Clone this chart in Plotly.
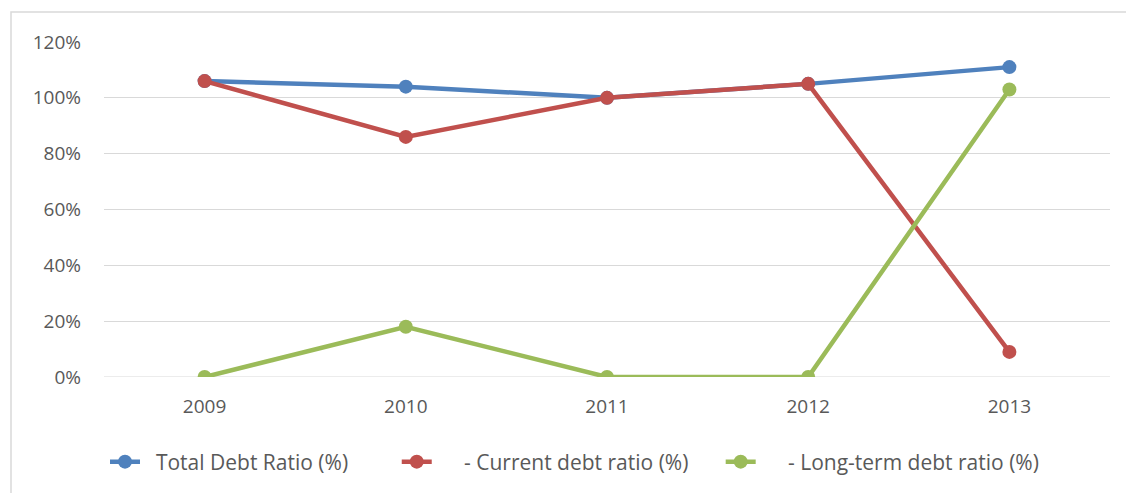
import plotly.graph_objects as go

years = ["2009", "2010", "2011", "2012", "2013"]
total_debt = [1.06, 1.04, 1.00, 1.05, 1.11]
current_debt = [1.06, 0.86, 1.00, 1.05, 0.09]
longterm_debt = [0.00, 0.18, 0.00, 0.00, 1.03]

NB = "\u00a0"
series_names = [
    NB * 2 + "Total Debt Ratio (%)" + NB * 8,
    NB * 5 + "- Current debt ratio (%)" + NB * 5,
    NB * 5 + "- Long-term debt ratio (%)",
]
colors = ["#4F81BD", "#C0504D", "#9BBB59"]

fig = go.Figure()
for name, vals, col in zip(series_names, [total_debt, current_debt, longterm_debt], colors):
    fig.add_trace(go.Scatter(
        x=years, y=vals, name=name, mode="lines+markers",
        line=dict(color=col, width=4.5),
        marker=dict(color=col, size=14),
    ))

font = "Open Sans, Liberation Sans, sans-serif"
fig.update_layout(
    width=1126, height=493,
    margin=dict(l=104, r=16, t=42, b=115),
    paper_bgcolor="white", plot_bgcolor="white",
    font=dict(family=font, size=19, color="#595959"),
    showlegend=True,
    legend=dict(orientation="h", x=0.001, xanchor="left", y=-0.25, yanchor="middle",
                font=dict(size=21, color="#595959"), tracegroupgap=0),
    xaxis=dict(type="category", range=[-0.5, 4.5], showgrid=False, zeroline=False,
               showline=False, ticks="", ticklabelstandoff=16, fixedrange=True),
    yaxis=dict(range=[0, 1.2], dtick=0.2, tickformat=".0%", showgrid=True,
               gridcolor="#D9D9D9", gridwidth=1, zeroline=False, showline=False,
               ticks="", ticklabelstandoff=22, fixedrange=True),
    shapes=[dict(type="rect", xref="paper", yref="paper",
                 x0=(11 - 104) / 1006, x1=(1140 - 104) / 1006,
                 y0=(378 - 12) / 336, y1=(378 - 510) / 336,
                 line=dict(color="#D9D9D9", width=1.5), layer="below")],
)
fig.add_hline(y=0, line=dict(color="#D9D9D9", width=1), layer="below")

fig.write_html("out.html")
